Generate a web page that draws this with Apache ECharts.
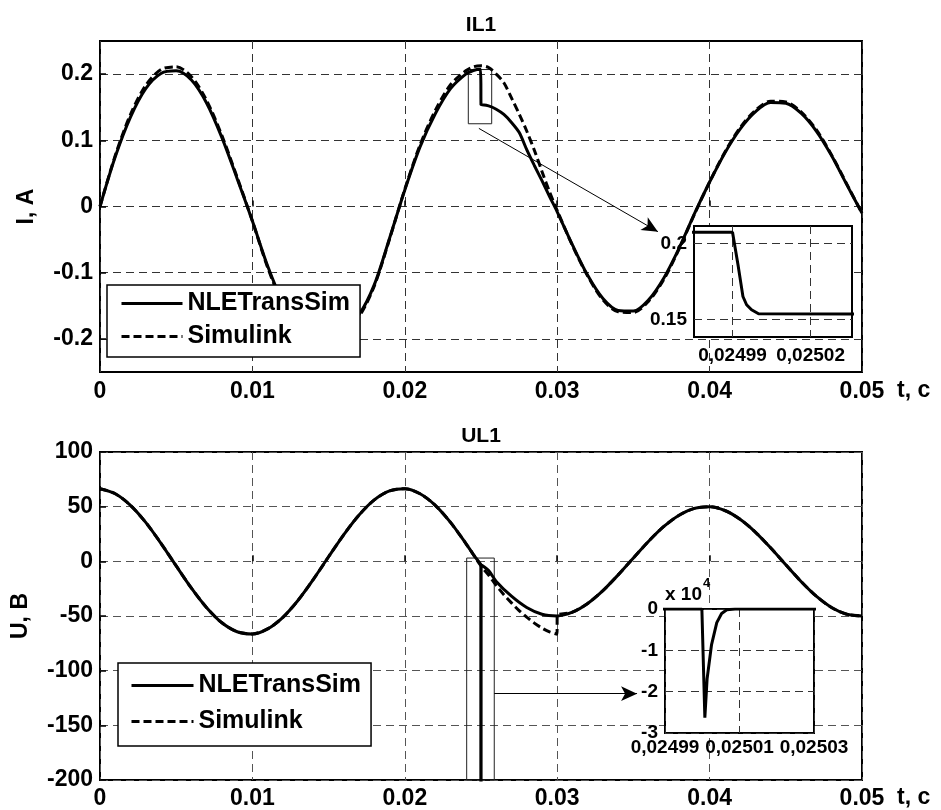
<!DOCTYPE html>
<html>
<head>
<meta charset="utf-8">
<script src="https://cdn.jsdelivr.net/npm/echarts@6/dist/echarts.min.js"></script>
<style>html,body{margin:0;padding:0;background:#fff}#c{width:941px;height:810px}</style>
</head>
<body>
<div id="c"></div>
<script>
// ---------- data ----------
// IL1, NLETransSim
const tIN = [0,0.001,0.002,0.003,0.004,0.005,0.006,0.007,0.008,0.009,0.010,0.011,0.012,0.013,0.014,0.015,0.016,0.017,0.018,0.019,0.020,0.021,0.022,0.023,0.024,0.0245,0.02497,0.02499,0.0249922,0.024994,0.0249954,0.0249973,0.025,0.02504,0.0255,0.026,0.0265,0.027,0.0275,0.028,0.0285,0.029,0.0295,0.030,0.031,0.032,0.033,0.034,0.035,0.036,0.037,0.038,0.039,0.040,0.041,0.042,0.043,0.044,0.045,0.046,0.047,0.048,0.049,0.050];
const iN  = [0,0.075,0.135,0.178,0.201,0.205,0.191,0.156,0.104,0.042,-0.022,-0.090,-0.145,-0.183,-0.200,-0.198,-0.182,-0.163,-0.118,-0.048,0.025,0.090,0.140,0.178,0.200,0.2055,0.2072,0.2072,0.1849,0.1652,0.1598,0.1565,0.1539,0.1538,0.152,0.147,0.139,0.127,0.112,0.086,0.062,0.039,0.015,-0.008,-0.058,-0.104,-0.139,-0.157,-0.158,-0.141,-0.108,-0.063,-0.011,0.037,0.081,0.117,0.143,0.157,0.156,0.141,0.114,0.077,0.033,-0.010];
// IL1, Simulink
const tIS = [0,0.001,0.002,0.003,0.004,0.005,0.006,0.007,0.008,0.009,0.010,0.011,0.012,0.013,0.014,0.015,0.016,0.017,0.018,0.019,0.020,0.021,0.022,0.023,0.024,0.0245,0.025,0.0255,0.026,0.0265,0.027,0.0275,0.028,0.0285,0.029,0.0295,0.030,0.031,0.032,0.033,0.034,0.035,0.036,0.037,0.038,0.039,0.040,0.041,0.042,0.043,0.044,0.045,0.046,0.047,0.048,0.049,0.050];
const iS  = [0,0.077,0.139,0.183,0.207,0.211,0.196,0.160,0.107,0.044,-0.022,-0.092,-0.148,-0.187,-0.204,-0.202,-0.186,-0.166,-0.120,-0.049,0.026,0.093,0.145,0.184,0.205,0.211,0.2125,0.210,0.200,0.187,0.164,0.140,0.114,0.085,0.053,0.022,-0.006,-0.059,-0.105,-0.141,-0.159,-0.160,-0.143,-0.110,-0.064,-0.012,0.037,0.082,0.119,0.145,0.159,0.158,0.143,0.116,0.078,0.034,-0.010];
// UL1, NLETransSim
const tUN = [0,0.001,0.002,0.003,0.004,0.005,0.006,0.007,0.008,0.009,0.010,0.011,0.012,0.013,0.014,0.015,0.016,0.017,0.018,0.019,0.020,0.021,0.022,0.023,0.024,0.0245,0.02499,0.0249999,0.0250007,0.0250013,0.0250025,0.0250039,0.0250052,0.0250066,0.0250088,0.02502,0.0255,0.026,0.027,0.028,0.029,0.030,0.031,0.032,0.033,0.034,0.035,0.036,0.037,0.038,0.039,0.040,0.041,0.042,0.043,0.044,0.045,0.046,0.047,0.048,0.049,0.050];
const uN  = [66.4,61.8,51.2,35.6,16.5,-4.2,-24.5,-42.4,-56.2,-64.4,-66.4,-61.8,-51.2,-35.6,-16.5,4.2,24.5,42.4,56.2,64.4,66.4,61.8,51.2,35.6,16.5,6.2,-2.9,-3.1,-26300,-16900,-8600,-3300,-1100,-200,-10,-3.3,-8.5,-18.4,-31.9,-42.2,-48.4,-49.9,-46.5,-38.5,-26.8,-12.4,3.1,18.4,31.9,42.2,48.4,49.9,46.5,38.5,26.8,12.4,-3.1,-18.4,-31.9,-42.2,-48.4,-49.9];
// UL1, Simulink
const tUS = [0,0.001,0.002,0.003,0.004,0.005,0.006,0.007,0.008,0.009,0.010,0.011,0.012,0.013,0.014,0.015,0.016,0.017,0.018,0.019,0.020,0.021,0.022,0.023,0.024,0.0245,0.025,0.0255,0.026,0.0265,0.027,0.0275,0.028,0.0285,0.029,0.0295,0.02999,0.030,0.031,0.032,0.033,0.034,0.035,0.036,0.037,0.038,0.039,0.040,0.041,0.042,0.043,0.044,0.045,0.046,0.047,0.048,0.049,0.050];
const uS  = [66.4,61.8,51.2,35.6,16.5,-4.2,-24.5,-42.4,-56.2,-64.4,-66.4,-61.8,-51.2,-35.6,-16.5,4.2,24.5,42.4,56.2,64.4,66.4,61.8,51.2,35.6,16.5,6.2,-4.2,-12.5,-22,-30.5,-38,-45,-51,-56.5,-61,-64.5,-66.6,-49.9,-46.5,-38.5,-26.8,-12.4,3.1,18.4,31.9,42.2,48.4,49.9,46.5,38.5,26.8,12.4,-3.1,-18.4,-31.9,-42.2,-48.4,-49.9];

// tick values
const xTicks = [0,0.01,0.02,0.03,0.04,0.05];
const iTicks = [-0.2,-0.1,0,0.1,0.2];
const uTicks = [-200,-150,-100,-50,0,50,100];
const zoomITicksX = [0.02499,0.02502];
const zoomITicksY = [0.15,0.2];
const zoomUTicksX = [0.02499,0.02501,0.02503];
const zoomUTicksY = [-30000,-20000,-10000,0];

// annotation boxes / arrows (data coordinates)
const boxI = [[0.024167,0.2069],[0.025702,0.125]];
const arrowI = [[0.02486,0.118],[0.03661,-0.038]];
const boxU = [[0.02406,3],[0.02587,-200]];
const arrowU = [[0.02587,-121],[0.03524,-121]];

// ---------- chart ----------
const FONT = '"Liberation Sans", Arial, Helvetica, sans-serif';
const pairs = (t, v) => t.map((x, i) => [x, v[i]]);
const lbl = (size) => ({fontFamily: FONT, fontWeight: 'bold', fontSize: size, color: '#000'});
const gridDash = (c) => ({show: true, lineStyle: {type: [8, 5], color: c, width: 1}});
const fmtT = v => v === 0 ? '0' : String(+v.toFixed(3));
const fmtComma = v => v.toFixed(5).replace('.', ',');

const chart = echarts.init(document.getElementById('c'), null, {renderer: 'canvas'});

const mainX = (gi, margin) => ({
  gridIndex: gi, type: 'value', min: 0, max: 0.05, interval: 0.01,
  axisLine: {show: false},
  axisTick: {show: true, inside: true, length: 6, lineStyle: {color: '#000', width: 1.5}},
  axisLabel: Object.assign(lbl(23), {margin: margin, formatter: fmtT}),
  splitLine: gridDash(gi === 0 ? '#333' : '#555')
});

const legendCommon = {
  data: ['NLETransSim', 'Simulink'], orient: 'vertical',
  itemHeight: 26, backgroundColor: '#fff', borderColor: '#000', borderWidth: 1.5,
  selectedMode: false, textStyle: lbl(25), lineStyle: {width: 3},
  itemStyle: {color: 'rgba(0,0,0,0)', borderColor: 'rgba(0,0,0,0)', borderWidth: 0, opacity: 0},
  z: 4
};

const option = {
  animation: false,
  backgroundColor: '#fff',
  grid: [
    {left: 100, top: 41, width: 762, height: 331, show: true, borderColor: '#000', borderWidth: 2},
    {left: 100, top: 452, width: 762, height: 328, show: true, borderColor: '#000', borderWidth: 2},
    {left: 694, top: 226, width: 158, height: 111, show: true, backgroundColor: '#fff', borderColor: '#000', borderWidth: 2, z: 5},
    {left: 665, top: 609, width: 149, height: 124, show: true, backgroundColor: '#fff', borderColor: '#000', borderWidth: 2, z: 5}
  ],
  xAxis: [
    mainX(0, 8),
    mainX(1, 7),
    {gridIndex: 2, type: 'value', min: 0.0249752, max: 0.0250359, z: 6,
     axisLine: {show: false}, axisTick: {show: false, customValues: zoomITicksX},
     axisLabel: Object.assign(lbl(19), {customValues: zoomITicksX, margin: 9, formatter: fmtComma}),
     splitLine: gridDash('#333')},
    {gridIndex: 3, type: 'value', min: 0.02499, max: 0.02503, z: 6,
     axisLine: {show: false}, axisTick: {show: false, customValues: zoomUTicksX},
     axisLabel: Object.assign(lbl(19), {customValues: zoomUTicksX, margin: 5, formatter: fmtComma}),
     splitLine: gridDash('#333')}
  ],
  yAxis: [
    {gridIndex: 0, type: 'value', min: -0.25, max: 0.25,
     axisLine: {show: false},
     axisTick: {show: true, inside: true, length: 6, customValues: iTicks, lineStyle: {color: '#000', width: 1.5}},
     axisLabel: Object.assign(lbl(23), {customValues: iTicks, margin: 7, formatter: v => v === 0 ? '0' : v.toFixed(1)}),
     splitLine: gridDash('#333'),
     name: 'I, A', nameLocation: 'middle', nameGap: 62, nameTextStyle: lbl(23)},
    {gridIndex: 1, type: 'value', min: -200, max: 100, interval: 50,
     axisLine: {show: false},
     axisTick: {show: true, inside: true, length: 6, lineStyle: {color: '#000', width: 1.5}},
     axisLabel: Object.assign(lbl(23), {margin: 7}),
     splitLine: gridDash('#555'),
     name: 'U, B', nameLocation: 'middle', nameGap: 68, nameTextStyle: lbl(23)},
    {gridIndex: 2, type: 'value', min: 0.1387, max: 0.2113, z: 6,
     axisLine: {show: false}, axisTick: {show: false, customValues: zoomITicksY},
     axisLabel: Object.assign(lbl(19), {customValues: zoomITicksY, margin: 7, formatter: v => String(+v.toFixed(2))}),
     splitLine: gridDash('#333')},
    {gridIndex: 3, type: 'value', min: -30000, max: 0, interval: 10000, z: 6,
     axisLine: {show: false}, axisTick: {show: false},
     axisLabel: Object.assign(lbl(19), {margin: 7, formatter: v => String(v / 10000)}),
     splitLine: gridDash('#333'),
     name: '{a|x 10}{b|4}', nameLocation: 'end', nameGap: 5,
     nameTextStyle: {align: 'left', verticalAlign: 'bottom',
       rich: {a: Object.assign(lbl(19), {verticalAlign: 'bottom'}),
              b: Object.assign(lbl(13), {verticalAlign: 'top', padding: [0, 0, 14, 1]})}}}
  ],
  legend: [
    Object.assign({}, legendCommon, {left: 107, top: 285, itemWidth: 61, itemGap: 8, padding: [6, 10, 8, 13]}),
    Object.assign({}, legendCommon, {left: 118, top: 663, itemWidth: 62, itemGap: 11, padding: [10, 10, 12, 12]})
  ],
  graphic: [
    {type: 'text', x: 481, y: 25, z: 10, style: {text: 'IL1', font: 'bold 21px ' + FONT, fill: '#000', align: 'center', verticalAlign: 'middle'}},
    {type: 'text', x: 481, y: 436, z: 10, style: {text: 'UL1', font: 'bold 21px ' + FONT, fill: '#000', align: 'center', verticalAlign: 'middle'}},
    {type: 'text', x: 897, y: 391, z: 10, style: {text: 't, c', font: 'bold 23px ' + FONT, fill: '#000', align: 'left', verticalAlign: 'middle'}},
    {type: 'text', x: 897, y: 798, z: 10, style: {text: 't, c', font: 'bold 23px ' + FONT, fill: '#000', align: 'left', verticalAlign: 'middle'}}
  ],
  series: [
    {name: 'Simulink', type: 'line', xAxisIndex: 0, yAxisIndex: 0, data: pairs(tIS, iS), symbol: 'none', showSymbol: false, z: 2,
     smooth: 0.3, lineStyle: {color: '#000', width: 3, type: [8, 4]}, itemStyle: {color: '#000'}},
    {name: 'NLETransSim', type: 'line', xAxisIndex: 0, yAxisIndex: 0, data: pairs(tIN, iN), symbol: 'none', showSymbol: false, z: 3,
     smooth: 0.3, lineStyle: {color: '#000', width: 3}, itemStyle: {color: '#000'},
     markArea: {silent: true, itemStyle: {color: 'rgba(0,0,0,0)', borderColor: '#222', borderWidth: 1},
       data: [[{coord: boxI[0]}, {coord: boxI[1]}]]},
     markLine: {silent: true, symbol: ['none', 'arrow'], symbolSize: [11, 16], label: {show: false},
       lineStyle: {color: '#000', width: 1, type: 'solid'},
       data: [[{coord: arrowI[0]}, {coord: arrowI[1]}]]}},
    {name: 'Simulink', type: 'line', xAxisIndex: 1, yAxisIndex: 1, data: pairs(tUS, uS), symbol: 'none', showSymbol: false, z: 2,
     smooth: 0.3, lineStyle: {color: '#000', width: 3, type: [8, 4]}, itemStyle: {color: '#000'}},
    {name: 'NLETransSim', type: 'line', xAxisIndex: 1, yAxisIndex: 1, data: pairs(tUN, uN), symbol: 'none', showSymbol: false, z: 3,
     smooth: 0.3, lineStyle: {color: '#000', width: 3}, itemStyle: {color: '#000'},
     markArea: {silent: true, itemStyle: {color: 'rgba(0,0,0,0)', borderColor: '#222', borderWidth: 1},
       data: [[{coord: boxU[0]}, {coord: boxU[1]}]]},
     markLine: {silent: true, symbol: ['none', 'arrow'], symbolSize: [11, 16], label: {show: false},
       lineStyle: {color: '#000', width: 1, type: 'solid'},
       data: [[{coord: arrowU[0]}, {coord: arrowU[1]}]]}},
    {name: 'NLETransSim', type: 'line', xAxisIndex: 2, yAxisIndex: 2, data: pairs(tIN, iN), symbol: 'none', showSymbol: false, z: 7,
     lineStyle: {color: '#000', width: 3}, itemStyle: {color: '#000'}},
    {name: 'NLETransSim', type: 'line', xAxisIndex: 3, yAxisIndex: 3, data: pairs(tUN, uN), symbol: 'none', showSymbol: false, z: 7,
     lineStyle: {color: '#000', width: 3}, itemStyle: {color: '#000'}}
  ]
};
chart.setOption(option);
</script>
</body>
</html>
